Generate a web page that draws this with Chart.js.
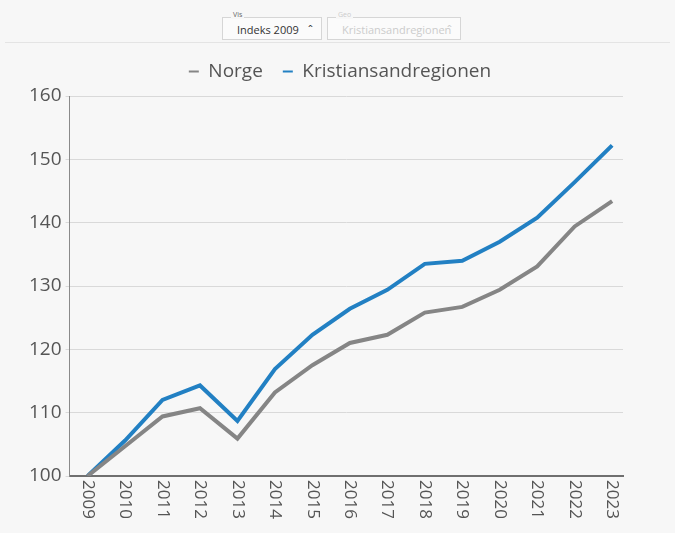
<!DOCTYPE html>
<html>
<head>
<meta charset="utf-8">
<script src="https://cdn.jsdelivr.net/npm/chart.js@4.4.1/dist/chart.umd.min.js"></script>
<style>
  html, body { margin: 0; padding: 0; background: #f7f7f7; font-family: "Open Sans", sans-serif; }
  .top { position: absolute; left: 5px; right: 5px; top: 0; height: 42px; border-bottom: 1px solid #e4e4e4; }
  .sel { position: absolute; top: 17px; height: 23px; border: 1px solid #d6d6d6; background: #fbfbfb; font-size: 11px; line-height: 23px; box-sizing: border-box; padding-left: 14px; }
  .sel .lab { position: absolute; left: 8px; top: -8px; font-size: 7px; line-height: 9px; background: #f7f7f7; padding: 0 2px; color: #666; }
  .sel .car { position: absolute; right: 8px; top: 1px; font-size: 12px; }
  #wrap { position: absolute; left: 0; top: 42px; width: 675px; height: 491px; }
</style>
</head>
<body>
<div class="top">
  <div class="sel" style="left:217px;width:100px;color:#333;"><span class="lab">Vis</span>Indeks 2009<span class="car">&#710;</span></div>
  <div class="sel" style="left:322px;width:134px;color:#ccc;"><span class="lab" style="color:#ccc">Geo</span>Kristiansandregionen<span class="car">&#710;</span></div>
</div>
<div id="wrap"><canvas id="chart"></canvas></div>
<script>
const years = [2009, 2010, 2011, 2012, 2013, 2014, 2015, 2016, 2017, 2018, 2019, 2020, 2021, 2022, 2023];
const norge = [100, 104.7, 109.4, 110.7, 105.9, 113.2, 117.5, 121.0, 122.3, 125.8, 126.7, 129.4, 133.1, 139.4, 143.4];
const kristiansand = [100, 105.6, 112.0, 114.3, 108.7, 116.9, 122.3, 126.4, 129.4, 133.5, 134.0, 137.0, 140.8, 146.4, 152.2];
const yTicks = [100, 110, 120, 130, 140, 150, 160];

const toPoints = arr => arr.map((v, i) => ({ x: years[i], y: v }));

// year labels read top-to-bottom, so they are drawn here from the x scale
const downLabels = {
    id: 'downLabels',
    afterDraw(chart) {
        const { ctx, scales: { x } } = chart;
        ctx.save();
        ctx.fillStyle = '#555';
        ctx.font = '17px "Open Sans"';
        ctx.textAlign = 'left';
        ctx.textBaseline = 'middle';
        years.forEach(y => {
            ctx.save();
            ctx.translate(x.getPixelForValue(y), x.top + 4);
            ctx.rotate(Math.PI / 2);
            ctx.fillText(String(y), 0, 0);
            ctx.restore();
        });
        ctx.restore();
    }
};

// a bit more room under the legend, and centre it on the whole page
const legendGap = {
    id: 'legendGap',
    beforeInit(chart) {
        const fit = chart.legend.fit;
        chart.legend.fit = function () {
            fit.call(this);
            this.height += 5;
        };
    },
    afterLayout(chart) {
        chart.legend.left += 16;
        chart.legend.right += 16;
    }
};

new Chart(document.getElementById('chart').getContext('2d'), {
    type: 'line',
    data: {
        datasets: [
            { label: 'Norge', data: toPoints(norge), borderColor: '#858585', backgroundColor: '#858585', borderWidth: 4, pointRadius: 0, tension: 0 },
            { label: 'Kristiansandregionen', data: toPoints(kristiansand), borderColor: '#2280c3', backgroundColor: '#2280c3', borderWidth: 4, pointRadius: 0, tension: 0 }
        ]
    },
    options: {
        responsive: true,
        maintainAspectRatio: false,
        animation: false,
        layout: { padding: { left: 25, right: 52, top: 0, bottom: 57 } },
        plugins: {
            tooltip: { enabled: false },
            legend: {
                labels: {
                    color: '#555',
                    font: { family: 'Open Sans', size: 19 },
                    usePointStyle: true,
                    pointStyle: 'line',
                    pointStyleWidth: 10,
                    boxHeight: 10,
                    padding: 20,
                    generateLabels(chart) {
                        return chart.data.datasets.map((d, i) => ({
                            text: d.label, strokeStyle: d.borderColor, fillStyle: d.borderColor,
                            lineWidth: 2, pointStyle: 'line', datasetIndex: i, fontColor: '#555'
                        }));
                    }
                }
            }
        },
        scales: {
            x: {
                type: 'linear',
                min: 2008.52,
                max: 2023.29,
                afterBuildTicks(axis) { axis.ticks = years.map(y => ({ value: y })); },
                ticks: { display: false },
                grid: { display: false, drawTicks: false },
                border: { color: '#6f6f6f', width: 2 }
            },
            y: {
                min: 100,
                max: 160,
                afterBuildTicks(axis) { axis.ticks = yTicks.map(v => ({ value: v })); },
                ticks: { color: '#555', font: { family: 'Open Sans', size: 19 }, padding: 4 },
                grid: { color: '#d9d9d9', tickLength: 4 },
                border: { color: '#8a8a8a', width: 1 }
            }
        }
    },
    plugins: [legendGap, downLabels]
});
</script>
</body>
</html>
